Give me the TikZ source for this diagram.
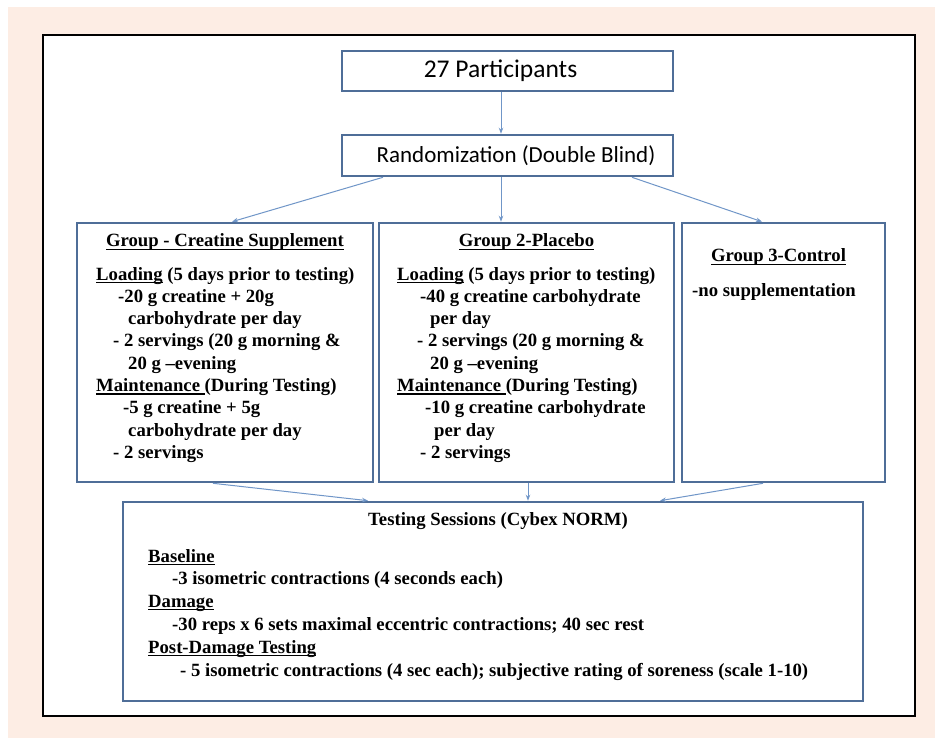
\documentclass[tikz,border=0pt]{standalone}
\usepackage{fontspec}
\setmainfont{Liberation Serif}
\newfontfamily\calfont{Carlito}
\usetikzlibrary{arrows.meta}
\definecolor{peach}{HTML}{FDEDE4}
\definecolor{boxblue}{HTML}{4F6E98}
\definecolor{arrblue}{HTML}{7096C8}
\newsavebox\myulbox
\newcommand\myul[1]{\sbox\myulbox{#1}\rlap{\rule[-3pt]{\wd\myulbox}{1.2pt}}\usebox\myulbox}
\tikzset{
  bx/.style={draw=boxblue, line width=2.6pt, fill=white, inner sep=0pt},
  ln/.style={anchor=base west, inner sep=0pt, font=\fontsize{18.7}{22.3}\selectfont\bfseries},
  ttl/.style={anchor=base, inner sep=0pt, font=\fontsize{18.7}{22.3}\selectfont\bfseries},
  arr/.style={draw=arrblue, line width=1pt, -{Stealth[length=6pt,width=4.5pt]}},
}
\begin{document}
\begin{tikzpicture}[x=1pt,y=-1pt]
\useasboundingbox (0,0) rectangle (935,738);
\fill[white] (0,0) rectangle (935,738);
\fill[peach] (8,7) rectangle (935,738);
\filldraw[fill=white, draw=black, line width=2.6pt] (43,35) rectangle (915,716);

% boxes
\node[bx, minimum width=331, minimum height=40] (p) at (507.5,71) {};
\node[bx, minimum width=331, minimum height=41] (r) at (507.5,155.5) {};
\node[bx, minimum width=296, minimum height=259] (g1) at (225,352.5) {};
\node[bx, minimum width=295, minimum height=259] (g2) at (526.5,352.5) {};
\node[bx, minimum width=203, minimum height=259] (g3) at (783.5,352.5) {};
\node[bx, minimum width=740, minimum height=199] (t) at (493,601.5) {};

% headings
\node[inner sep=0pt, font=\calfont\fontsize{25.5}{28}\selectfont] (pt) at (500.5,71) {27 Participants};
\node[inner sep=0pt, font=\calfont\fontsize{23}{26}\selectfont] (rt) at (516,156) {Randomization (Double Blind)};

% group 1
\node[ttl] (g1a) at (225,247) {\myul{Group - Creatine Supplement}};
\node[ln] (g1b) at (96,280) {\myul{Loading} (5 days prior to testing)};
\node[ln] (g1c) at (118,302.3) {-20 g creatine + 20g};
\node[ln] (g1d) at (128,324.6) {carbohydrate per day};
\node[ln] (g1e) at (113,346.9) {- 2 servings (20 g morning \&};
\node[ln] (g1f) at (128,369.2) {20 g –evening};
\node[ln] (g1g) at (96,391.5) {\myul{Maintenance\ }(During Testing)};
\node[ln] (g1h) at (123,413.8) {-5 g creatine + 5g};
\node[ln] (g1i) at (128,436.1) {carbohydrate per day};
\node[ln] (g1j) at (113,458.4) {- 2 servings};

% group 2
\node[ttl] (g2a) at (526.5,247) {\myul{Group 2-Placebo}};
\node[ln] (g2b) at (397,280) {\myul{Loading} (5 days prior to testing)};
\node[ln] (g2c) at (420,302.3) {-40 g creatine carbohydrate};
\node[ln] (g2d) at (430,324.6) {per day};
\node[ln] (g2e) at (417,346.9) {- 2 servings (20 g morning \&};
\node[ln] (g2f) at (430,369.2) {20 g –evening};
\node[ln] (g2g) at (397,391.5) {\myul{Maintenance\ }(During Testing)};
\node[ln] (g2h) at (425,413.8) {-10 g creatine carbohydrate};
\node[ln] (g2i) at (434,436.1) {per day};
\node[ln] (g2j) at (420,458.4) {- 2 servings};

% group 3
\node[ttl] (g3a) at (778.5,262) {\myul{Group 3-Control}};
\node[ln] (g3b) at (692,297) {-no supplementation};

% testing
\node[ttl] (ta) at (498,525) {Testing Sessions (Cybex NORM)};
\node[ln] (tb) at (148,562) {\myul{Baseline}};
\node[ln] (tc) at (172,584.5) {-3 isometric contractions (4 seconds each)};
\node[ln] (td) at (148,607) {\myul{Damage}};
\node[ln] (te) at (172,630) {-30 reps x 6 sets maximal eccentric contractions; 40 sec rest};
\node[ln] (tf) at (148,653) {\myul{Post-Damage Testing}};
\node[ln] (tg) at (180,676.5) {- 5 isometric contractions (4 sec each); subjective rating of soreness (scale 1-10)};

% connectors
\draw[arr] ([xshift=-6.5]p.south) -- ([xshift=-6.5]r.north);
\draw[arr] ([xshift=-124.5]r.south) -- ([xshift=7]g1.north);
\draw[arr] ([xshift=-6.5]r.south) -- ([xshift=-25.5]g2.north);
\draw[arr] ([xshift=124.5]r.south) -- ([xshift=-21.5]g3.north);
\draw[arr] ([xshift=-12]g1.south) -- ([xshift=-125]t.north);
\draw[arr] ([xshift=1.5]g2.south) -- ([xshift=35]t.north);
\draw[arr] ([xshift=-20.5]g3.south) -- ([xshift=167]t.north);
\end{tikzpicture}
\end{document}
